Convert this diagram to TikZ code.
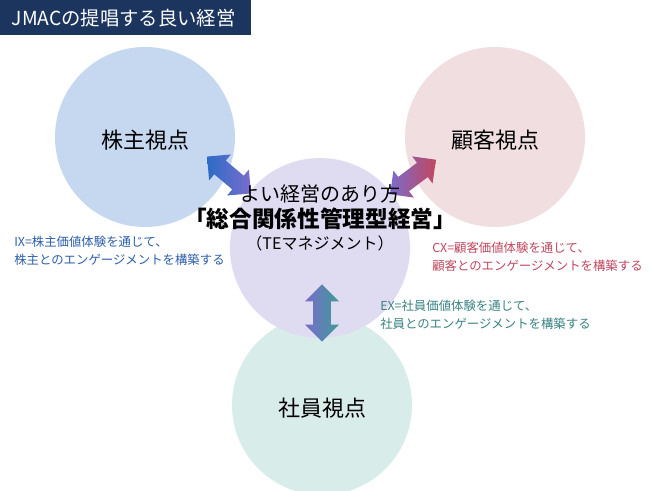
\documentclass[tikz,border=0pt]{standalone}
\usepackage{fontspec}
\setmainfont{Noto Sans CJK JP}
\usetikzlibrary{shapes.arrows}
\definecolor{navy}{HTML}{1B355E}
\definecolor{cL}{HTML}{C5D8EF}
\definecolor{cR}{HTML}{F1DEE1}
\definecolor{cC}{HTML}{DFDCF1}
\definecolor{cB}{HTML}{D8ECEA}
\definecolor{tB}{HTML}{2E5FA8}
\definecolor{tR}{HTML}{C0475E}
\definecolor{tG}{HTML}{3A8282}
\definecolor{aB}{HTML}{2C6CC8}
\definecolor{aP}{HTML}{7A6CCB}
\definecolor{aR}{HTML}{C24660}
\definecolor{aG}{HTML}{3E9A98}
\begin{document}
\begin{tikzpicture}[x=0.75pt,y=-0.75pt,
  circ/.style={circle,inner sep=0pt,minimum size=135pt},
  lbl/.style={font=\fontsize{16.5}{18}\selectfont},
  note/.style={anchor=north west,align=left,inner sep=0pt,font=\fontsize{9.3}{13.5}\selectfont},
  darr/.style={double arrow,minimum height=43pt,minimum width=25pt,double arrow head extend=6pt,inner xsep=0pt,inner ysep=6.5pt}]
\useasboundingbox (0,0) rectangle (650,491);
\fill[white] (0,0) rectangle (650,491);
\node[circ,fill=cL] (L) at (145,137) {};
\node[circ,fill=cR] (R) at (495,137) {};
\node[circ,fill=cB] (B) at (322,405) {};
\node[circ,fill=cC] (C) at (320,248) {};
\node[lbl] (Lt) at (145,140) {株主視点};
\node[lbl] (Rt) at (495,140) {顧客視点};
\node[lbl] (Bt) at (322,408) {社員視点};
\node[darr,rotate=-40,left color=aB,right color=aP] (a1) at (229,175) {};
\node[darr,rotate=37,left color=aP,right color=aR] (a2) at (413,177) {};
\node[darr,rotate=-90,left color=aP,right color=aG] (a3) at (322,313) {};
\node[font=\fontsize{15}{17}\selectfont] (c1) at (320,194) {よい経営のあり方};
\node[font=\fontsize{17}{19}\selectfont\bfseries] (c2) at (320,219) {「総合関係性管理型経営」};
\node[font=\fontsize{12}{14}\selectfont] (c3) at (320,243) {（TEマネジメント）};
\node[note,text=tB] (n1) at (14,236) {IX=株主価値体験を通じて、\\株主とのエンゲージメントを構築する};
\node[note,text=tR] (n2) at (432,242) {CX=顧客価値体験を通じて、\\顧客とのエンゲージメントを構築する};
\node[note,text=tG] (n3) at (380,300) {EX=社員価値体験を通じて、\\社員とのエンゲージメントを構築する};
\fill[navy] (0,0) rectangle (251,35);
\node[text=white,font=\fontsize{14.5}{16}\selectfont,anchor=west] (t) at (7,18) {JMACの提唱する良い経営};
\end{tikzpicture}
\end{document}
